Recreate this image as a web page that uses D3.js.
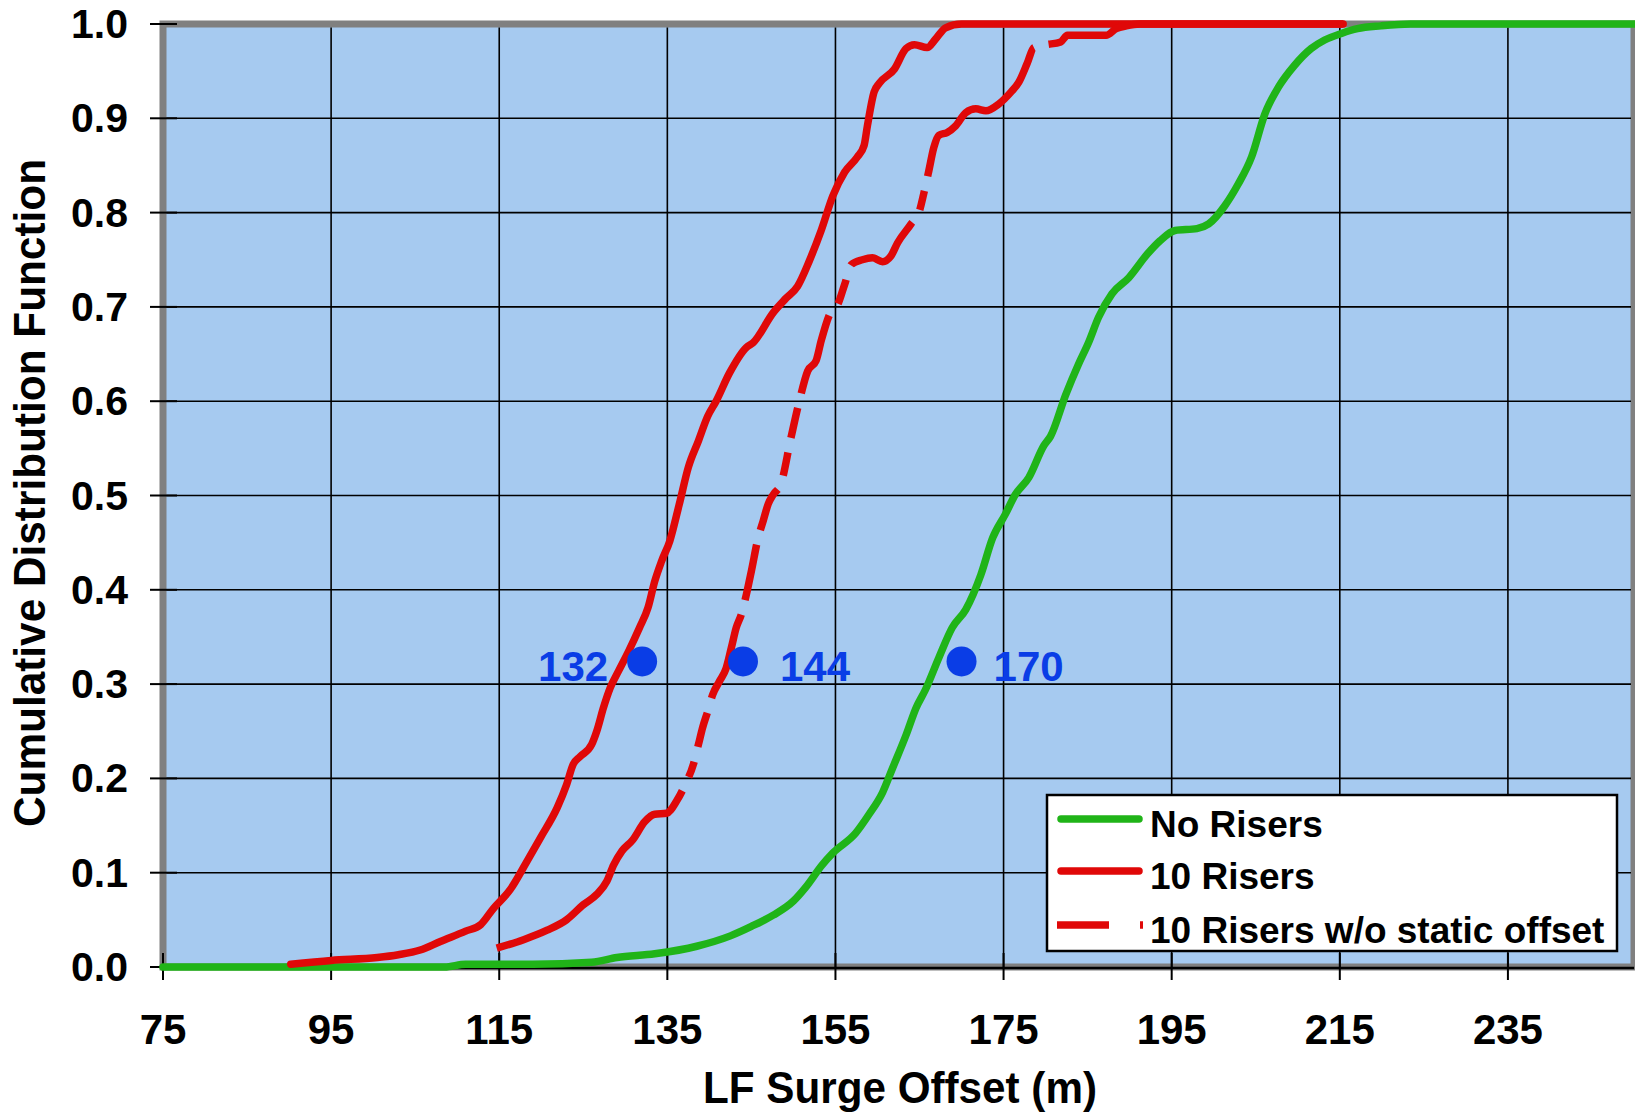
<!DOCTYPE html>
<html>
<head>
<meta charset="utf-8">
<script src="https://cdn.jsdelivr.net/npm/d3@7/dist/d3.min.js"></script>
<style>
  html, body { margin: 0; padding: 0; background: #ffffff; }
  svg { display: block; }
  text { font-family: "Liberation Sans", Arial, sans-serif; font-weight: bold; }
</style>
</head>
<body>
<svg id="chart" width="1635" height="1113"></svg>
<script>
// ---- data -------------------------------------------------------------
// Empirical CDFs of low-frequency surge offset (m) vs cumulative probability
const noRisersCdf = [
  [75,0],[108.5,0],[111,0.003],[119,0.003],[126,0.005],[129,0.01],[133.5,0.014],
  [138.5,0.022],[142.5,0.033],[145,0.043],[147.6,0.055],[150,0.07],[151.5,0.085],
  [153.4,0.108],[154.7,0.121],[157.4,0.142],[159,0.162],[160.6,0.185],[161.8,0.211],
  [163.4,0.246],[164.6,0.275],[165.7,0.294],[167.3,0.328],[168.9,0.36],[170.5,0.379],
  [172.3,0.416],[173.7,0.455],[175.2,0.48],[176.4,0.501],[178,0.519],[179.8,0.553],
  [180.6,0.563],[182.4,0.607],[183.9,0.639],[185.1,0.662],[186.3,0.689],[187.9,0.714],
  [189.9,0.731],[192.1,0.756],[193.6,0.77],[195.4,0.781],[198,0.783],[199.4,0.788],
  [201.3,0.807],[202.9,0.83],[204.5,0.859],[206.1,0.905],[207.7,0.933],[209.6,0.956],
  [211.6,0.974],[213.2,0.983],[215.2,0.99],[217.1,0.995],[219.9,0.998],[223.4,1.0],[250,1.0]
];

const tenRisersCdf = [
  [90.2,0.003],[95,0.007],[100.5,0.01],[103,0.013],[105.6,0.018],[108,0.027],[111,0.038],
  [112.8,0.045],[114.3,0.062],[116.3,0.082],[118.3,0.112],[119.9,0.137],[121.9,0.169],
  [123,0.193],[123.8,0.215],[124.6,0.223],[126,0.236],[126.6,0.25],[127.4,0.275],
  [128.2,0.296],[129.2,0.314],[130.4,0.335],[131.7,0.36],[132.7,0.381],[133.5,0.409],
  [134.3,0.43],[135.3,0.452],[136.4,0.49],[137.5,0.53],[138.7,0.558],[139.8,0.584],
  [140.8,0.6],[142.4,0.63],[144.4,0.657],[145.2,0.662],[147.6,0.694],[149.1,0.709],
  [150.5,0.722],[151.9,0.749],[153.3,0.781],[154.7,0.818],[156.1,0.843],[157.6,0.859],
  [158.4,0.871],[158.8,0.892],[159.6,0.928],[160.2,0.937],[162,0.952],[163.4,0.974],
  [164.4,0.978],[165.9,0.975],[166.9,0.984],[168.1,0.996],[170,1.0],[215.4,1.0]
];

const tenRisersNoStaticCdf = [
  [114.7,0.02],[117.9,0.029],[120.7,0.039],[123,0.05],[125,0.066],[126.6,0.077],
  [127.8,0.091],[128.6,0.108],[129.6,0.123],[130.9,0.135],[132.3,0.154],[133.5,0.162],
  [134.9,0.163],[136.1,0.176],[137.1,0.193],[138.1,0.215],[138.7,0.236],[139.2,0.254],
  [139.8,0.271],[140.4,0.289],[141.2,0.303],[142,0.317],[142.6,0.338],[143.2,0.36],
  [143.8,0.374],[144.4,0.395],[145,0.42],[145.8,0.455],[146.4,0.473],[147,0.491],
  [147.6,0.501],[148.5,0.512],[149.7,0.561],[150.7,0.6],[151.7,0.632],[152.7,0.643],
  [153.3,0.664],[154.3,0.692],[155.3,0.703],[156.1,0.724],[156.9,0.745],[158.2,0.75],
  [159.4,0.752],[160.6,0.748],[161.6,0.754],[162.4,0.768],[164,0.788],[165,0.802],
  [165.5,0.82],[166.1,0.844],[166.7,0.869],[167.3,0.882],[168.3,0.885],[169.3,0.892],
  [170.5,0.906],[171.7,0.91],[172.9,0.908],[174.4,0.915],[175.9,0.928],[176.8,0.938],
  [177.8,0.958],[178.6,0.975],[180,0.978],[181.8,0.981],[182.6,0.988],[187.2,0.988],
  [188.4,0.995],[189.6,0.998],[191.2,1.0],[215.4,1.0]
];

const seriesNames = ["No Risers", "10 Risers", "10 Risers w/o static offset"];

// highlighted offsets at a common probability level
const markerOffsets = [132, 144, 170];
const markerLevel = 0.324;

const xTickValues = [75, 95, 115, 135, 155, 175, 195, 215, 235];
const yTickValues = [0, 0.1, 0.2, 0.3, 0.4, 0.5, 0.6, 0.7, 0.8, 0.9, 1.0];

const xTitle = "LF Surge Offset (m)";
const yTitle = "Cumulative Distribution Function";

// ---- layout / style ---------------------------------------------------
const GREEN = "#20b418", RED = "#e00808", BLUE = "#0a3de6";
const PLOT_BG = "#a6caf0", FRAME = "#808080";

// probability levels where the long-dash pattern of the dashed curve breaks
const dashBreakLevels = [0.194, 0.225, 0.277, 0.381, 0.455, 0.513, 0.553, 0.6,
                         0.697, 0.736, 0.795, 0.83, 0.977];
const DASH_GAP = 15;

const svg = d3.select("#chart");
const x = d3.scaleLinear().domain([75, 250]).range([163, 1634]);
const y = d3.scaleLinear().domain([0, 1]).range([967, 24]);

// plot area with grey frame
svg.append("rect")
  .attr("x", x(75)).attr("y", y(1))
  .attr("width", x(250) - x(75)).attr("height", y(0) - y(1))
  .attr("fill", PLOT_BG).attr("stroke", FRAME).attr("stroke-width", 7);

// gridlines
svg.append("g").selectAll("line")
  .data(xTickValues.filter(v => v > 75))
  .join("line")
  .attr("x1", d => x(d)).attr("x2", d => x(d))
  .attr("y1", y(1) + 3.5).attr("y2", y(0))
  .attr("stroke", "#000").attr("stroke-width", 1.6);

svg.append("g").selectAll("line")
  .data(yTickValues.filter(v => v > 0 && v < 1))
  .join("line")
  .attr("x1", x(75) + 3.5).attr("x2", x(250) - 3)
  .attr("y1", d => y(d)).attr("y2", d => y(d))
  .attr("stroke", "#000").attr("stroke-width", 1.6);

// x axis line
svg.append("line")
  .attr("x1", x(75)).attr("x2", x(250))
  .attr("y1", y(0) + 1).attr("y2", y(0) + 1)
  .attr("stroke", "#000").attr("stroke-width", 2.5);

// cross tick marks
svg.append("g").selectAll("line")
  .data(yTickValues).join("line")
  .attr("x1", 150).attr("x2", 177)
  .attr("y1", d => y(d)).attr("y2", d => y(d))
  .attr("stroke", "#000").attr("stroke-width", 2);

svg.append("g").selectAll("line")
  .data(xTickValues).join("line")
  .attr("x1", d => x(d)).attr("x2", d => x(d))
  .attr("y1", y(0) - 14).attr("y2", y(0) + 13)
  .attr("stroke", "#000").attr("stroke-width", 2);

// tick labels
svg.append("g").selectAll("text")
  .data(yTickValues).join("text")
  .attr("x", 128).attr("y", d => y(d) + 14)
  .attr("text-anchor", "end")
  .attr("font-size", 41).attr("fill", "#000")
  .text(d => d3.format(".1f")(d));

svg.append("g").selectAll("text")
  .data(xTickValues).join("text")
  .attr("x", d => x(d)).attr("y", 1044)
  .attr("text-anchor", "middle")
  .attr("font-size", 42).attr("fill", "#000")
  .text(d => d);

// axis titles
svg.append("text")
  .attr("x", 900).attr("y", 1103)
  .attr("text-anchor", "middle")
  .attr("font-size", 44)
  .attr("textLength", 394).attr("lengthAdjust", "spacingAndGlyphs")
  .text(xTitle);

svg.append("text")
  .attr("transform", "translate(45,493) rotate(-90)")
  .attr("text-anchor", "middle")
  .attr("font-size", 44)
  .attr("textLength", 668).attr("lengthAdjust", "spacingAndGlyphs")
  .text(yTitle);

// CDF curves
const line = d3.line()
  .x(d => x(d[0])).y(d => y(d[1]))
  .curve(d3.curveMonotoneX);

svg.append("path").datum(noRisersCdf)
  .attr("d", line).attr("fill", "none")
  .attr("stroke", GREEN).attr("stroke-width", 7.5)
  .attr("stroke-linejoin", "round").attr("stroke-linecap", "round");

svg.append("path").datum(tenRisersCdf)
  .attr("d", line).attr("fill", "none")
  .attr("stroke", RED).attr("stroke-width", 7.5)
  .attr("stroke-linejoin", "round").attr("stroke-linecap", "round");

const dashed = svg.append("path").datum(tenRisersNoStaticCdf)
  .attr("d", line).attr("fill", "none")
  .attr("stroke", RED).attr("stroke-width", 7.5)
  .attr("stroke-linejoin", "miter").attr("stroke-linecap", "butt");

// long-dash pattern: dashes run along the curve and break where it crosses
// each of the listed probability levels
(function applyDashPattern(path) {
  const node = path.node();
  const total = node.getTotalLength();
  const samples = [];
  for (let L = 0; L <= total; L += 0.5) samples.push([L, node.getPointAtLength(L).y]);
  const centers = dashBreakLevels.map(p => {
    const target = y(p);
    const hit = samples.find(s => s[1] <= target);
    return hit ? hit[0] : null;
  }).filter(c => c !== null).sort((a, b) => a - b);
  const pattern = [];
  let pos = 0;
  centers.forEach(c => {
    const start = Math.max(pos, c - DASH_GAP / 2);
    pattern.push(start - pos, DASH_GAP);
    pos = start + DASH_GAP;
  });
  pattern.push(total - pos + 2, 40);
  path.attr("stroke-dasharray", pattern.map(v => v.toFixed(1)).join(","));
})(dashed);

// highlighted points with value labels
const labelAnchor = ["end", "start", "start"];
const labelDx = [-34, 37, 32];

svg.append("g").selectAll("circle")
  .data(markerOffsets).join("circle")
  .attr("cx", d => x(d)).attr("cy", y(markerLevel))
  .attr("r", 15).attr("fill", BLUE);

svg.append("g").selectAll("text")
  .data(markerOffsets).join("text")
  .attr("x", (d, i) => x(d) + labelDx[i])
  .attr("y", y(markerLevel) + 20)
  .attr("text-anchor", (d, i) => labelAnchor[i])
  .attr("font-size", 42).attr("fill", BLUE)
  .text(d => d);

// legend
const legend = svg.append("g");
legend.append("rect")
  .attr("x", 1047).attr("y", 795).attr("width", 570).attr("height", 156)
  .attr("fill", "#fff").attr("stroke", "#000").attr("stroke-width", 2.5);

const legendRowsY = [819, 871, 925];
const legendStyles = [
  { color: GREEN, dash: null },
  { color: RED, dash: null },
  { color: RED, dash: "52,31" }
];

seriesNames.forEach((name, i) => {
  const s = legendStyles[i];
  legend.append("line")
    .attr("x1", 1057 + (s.dash ? 0 : 4)).attr("x2", 1143 - (s.dash ? 0 : 4))
    .attr("y1", legendRowsY[i]).attr("y2", legendRowsY[i])
    .attr("stroke", s.color).attr("stroke-width", 7.5)
    .attr("stroke-linecap", s.dash ? "butt" : "round")
    .attr("stroke-dasharray", s.dash);
  legend.append("text")
    .attr("x", 1150).attr("y", legendRowsY[i] + 18)
    .attr("font-size", 37).attr("fill", "#000")
    .text(name);
});
</script>
</body>
</html>
